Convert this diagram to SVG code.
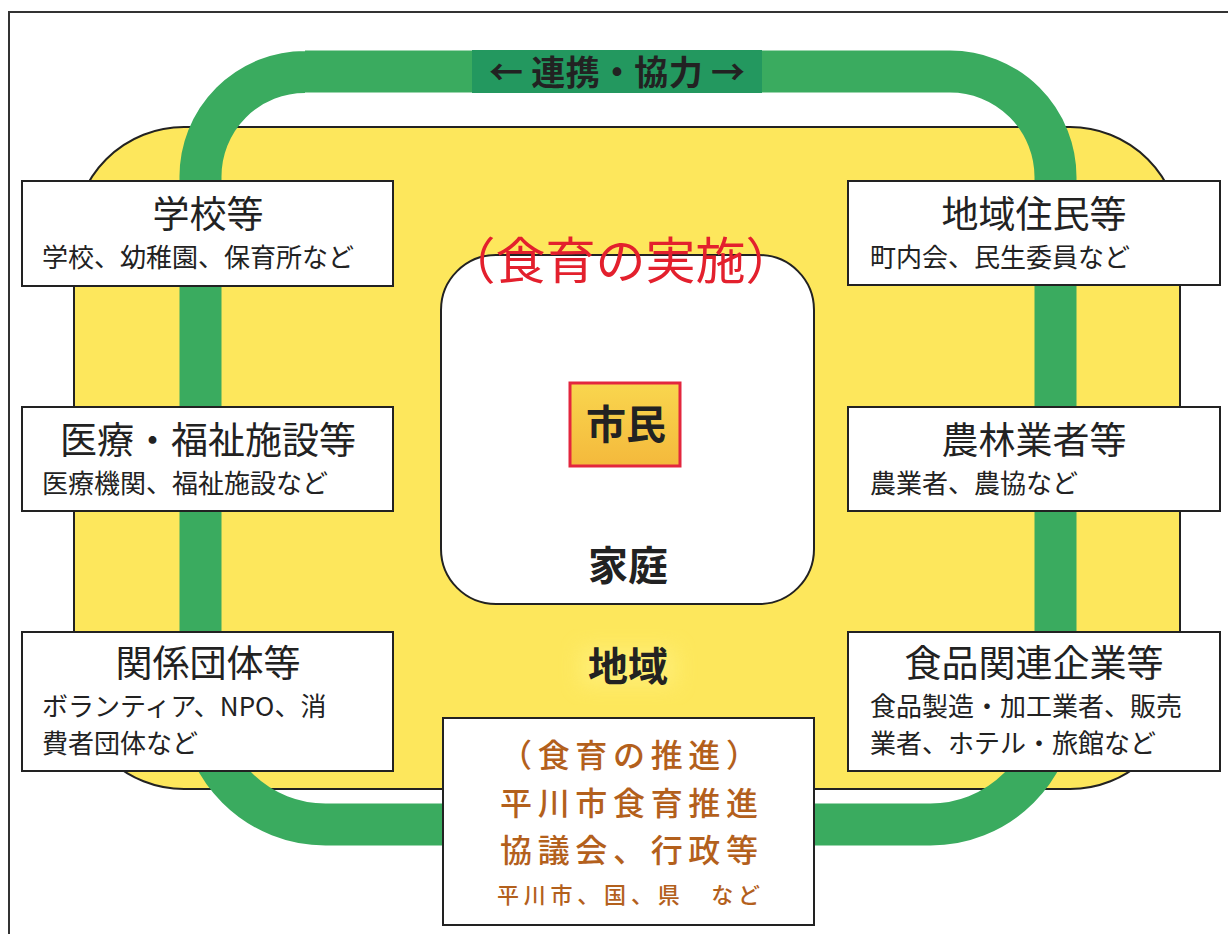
<svg xmlns="http://www.w3.org/2000/svg" width="1228" height="934" viewBox="0 0 1228 934">
<style>
text{font-family:"Noto Sans CJK JP","Noto Sans",sans-serif;fill:#222}
.box{fill:#fff;stroke:#222;stroke-width:2}
.title{font-size:37px;text-anchor:middle}
.sub{font-size:26px}
.big{font-size:40px;font-weight:bold;text-anchor:middle}
.brown{fill:#b3601c;font-weight:500}
</style>
<defs>
<linearGradient id="shimin" x1="0" y1="0" x2="0" y2="1">
<stop offset="0" stop-color="#f9d64e"/>
<stop offset="1" stop-color="#f4b93c"/>
</linearGradient>
<filter id="blur" x="-50%" y="-50%" width="200%" height="200%"><feGaussianBlur stdDeviation="10"/></filter>
</defs>
<rect width="1228" height="934" fill="#fff"/>
<path d="M9,934 V12 H1228" fill="none" stroke="#333" stroke-width="2"/>

<g id="region">
<rect x="74" y="127" width="1106" height="662" rx="110" ry="110" fill="#fde75c" stroke="#222" stroke-width="2"/>
<rect x="580" y="648" width="96" height="38" fill="#fff07a" filter="url(#blur)" opacity="0.8"/>
<text class="big" x="628" y="681">地域</text>
</g>

<g id="connectors">
<path d="M305,71.5 H950 A105.5 105.5 0 0 1 1055.5,177 V699.5 A125 125 0 0 1 930.5,824.5 H325.5 A125 125 0 0 1 200.5,699.5 V176.5 A104.5 104.5 0 0 1 305,72" fill="none" stroke="#3aab5f" stroke-width="42"/>
<rect x="472" y="50" width="290" height="43" fill="#23985f"/>
<text x="617" y="85" font-size="34" font-weight="bold" text-anchor="middle" textLength="256" lengthAdjust="spacing">← 連携・協力 →</text>
</g>

<g id="home">
<rect x="441" y="255" width="373" height="349" rx="55" ry="55" class="box"/>
<text x="620.5" y="279" font-size="50" text-anchor="middle" style="fill:#e3202d">（食育の実施）</text>
<text class="big" x="628" y="580">家庭</text>
</g>

<g id="shimin-node">
<rect x="570" y="383" width="110" height="83" fill="url(#shimin)" stroke="#e3263e" stroke-width="3"/>
<text class="big" x="626" y="439">市民</text>
</g>

<g id="school">
<rect x="22" y="181" width="371" height="105" class="box"/>
<text class="title" x="208" y="228">学校等</text>
<text class="sub" x="42" y="267">学校、幼稚園、保育所など</text>
</g>

<g id="medical">
<rect x="22" y="407" width="371" height="104" class="box"/>
<text class="title" x="208" y="454">医療・福祉施設等</text>
<text class="sub" x="42" y="493">医療機関、福祉施設など</text>
</g>

<g id="groups">
<rect x="22" y="632" width="371" height="139" class="box"/>
<text class="title" x="208" y="677">関係団体等</text>
<text class="sub" x="42" y="716">ボランティア、NPO、消</text>
<text class="sub" x="42" y="753">費者団体など</text>
</g>

<g id="residents">
<rect x="848" y="181" width="372" height="104" class="box"/>
<text class="title" x="1034" y="228">地域住民等</text>
<text class="sub" x="870" y="267">町内会、民生委員など</text>
</g>

<g id="farmers">
<rect x="848" y="407" width="372" height="104" class="box"/>
<text class="title" x="1034" y="454">農林業者等</text>
<text class="sub" x="870" y="493">農業者、農協など</text>
</g>

<g id="food">
<rect x="848" y="632" width="372" height="139" class="box"/>
<text class="title" x="1034" y="677">食品関連企業等</text>
<text class="sub" x="870" y="716">食品製造・加工業者、販売</text>
<text class="sub" x="870" y="753">業者、ホテル・旅館など</text>
</g>

<g id="promotion">
<rect x="443" y="718" width="371" height="207" class="box"/>
<text class="brown" x="500" y="767" font-size="32" textLength="258" lengthAdjust="spacing">（食育の推進）</text>
<text class="brown" x="500" y="815" font-size="32" textLength="258" lengthAdjust="spacing">平川市食育推進</text>
<text class="brown" x="500" y="862" font-size="32" textLength="258" lengthAdjust="spacing">協議会、行政等</text>
<text class="brown" x="497" y="903" font-size="22" textLength="263" lengthAdjust="spacing">平川市、国、県　など</text>
</g>
</svg>
